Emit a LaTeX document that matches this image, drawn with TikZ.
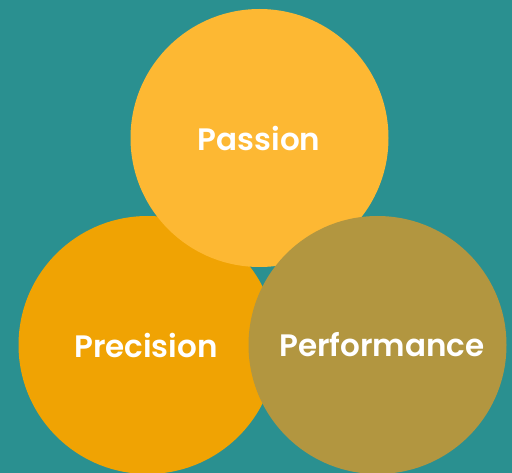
\documentclass[tikz,border=0pt]{standalone}
\usepackage{fontspec}
\setmainfont{Poppins}[BoldFont={Poppins SemiBold}]
\definecolor{bgteal}{RGB}{42,144,144}
\definecolor{passionc}{RGB}{253,184,51}
\definecolor{precisionc}{RGB}{240,163,3}
\definecolor{performc}{RGB}{178,150,64}
\begin{document}
\begin{tikzpicture}[x=1pt,y=-1pt,
  blob/.style={circle,minimum size=258pt,inner sep=0pt,draw=none},
  lbl/.style={text=white,font=\fontsize{31}{36}\selectfont\bfseries}]
\fill[bgteal] (0,0) rectangle (512,473);
\useasboundingbox (0,0) rectangle (512,473);
\node[blob,fill=precisionc] (prec) at (147.5,345) {};
\node[blob,fill=passionc] (pass) at (259.5,138) {};
\node[blob,fill=performc] (perf) at (377.5,345) {};
\node[lbl] (tpass) at (259,138) {Passion};
\node[lbl] (tprec) at (146,345) {Precision};
\node[lbl] (tperf) at (382,345) {Performance};
\end{tikzpicture}
\end{document}
